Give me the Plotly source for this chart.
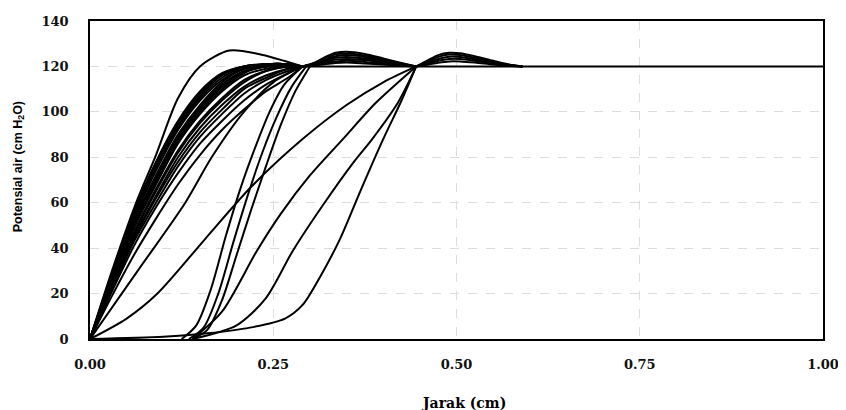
import plotly.graph_objects as go

# ---------------- data ----------------
# band of curves starting at the origin, reaching ~120 near x=0.29
band_x = [0, 0.03, 0.06, 0.09, 0.12, 0.15, 0.18, 0.21, 0.24, 0.27, 0.29]
band_y = [
    [0, 29, 56, 78, 96, 109, 117, 120, 121, 121, 120],
    [0, 28.5, 55.5, 77.5, 95, 108, 116.5, 120, 121, 121, 120],
    [0, 28, 55, 77, 94, 107, 116, 120, 121, 121, 120],
    [0, 27.5, 54, 75.5, 93, 106, 115, 119.5, 121, 121, 120],
    [0, 27, 53, 74, 92, 105, 114, 119, 121, 121, 120],
    [0, 26, 52, 72, 90, 103, 113, 119, 120, 121, 120],
    [0, 26, 51, 71, 89, 102, 112, 118, 120, 121, 120],
    [0, 25.5, 50, 70, 88, 101, 111, 117.5, 120, 120.5, 120],
    [0, 25, 49, 69, 87, 100, 110, 117, 120, 120, 120],
    [0, 25, 49, 68, 86, 99, 109, 116, 119, 120, 120],
    [0, 24, 47, 66, 83, 96, 106, 114, 118, 120, 120],
    [0, 23, 46, 65, 82, 95, 105, 113, 118, 120, 120],
    [0, 23, 45, 63, 80, 93, 103, 111, 116, 119, 120],
    [0, 22, 44, 62, 78, 91, 101, 110, 115, 119, 120],
    [0, 22, 43, 60, 76, 89, 99, 108, 114, 118, 120],
    [0, 21, 41, 58, 73, 86, 96, 105, 112, 117, 120],
    [0, 19, 37, 53, 68, 81, 92, 101, 109, 115, 120],
]

# overshooting curve from the origin
over_x = [0, 0.03, 0.063, 0.09, 0.12, 0.15, 0.19, 0.23, 0.29]
over_y = [0, 30, 60, 81, 106, 120, 127, 125.5, 120]

# straight-ish line from the origin
lin_x = [0, 0.065, 0.13, 0.166, 0.21, 0.25, 0.29]
lin_y = [0, 30, 60, 80, 100, 113, 120]

# steep curves starting near x=0.13
steep_x = [
    [0.125, 0.145, 0.165, 0.185, 0.205, 0.225, 0.245, 0.265, 0.29],
    [0.135, 0.155, 0.175, 0.195, 0.215, 0.235, 0.255, 0.275, 0.295],
    [0.14, 0.16, 0.18, 0.20, 0.22, 0.24, 0.26, 0.28, 0.30],
]
steep_y = [
    [0, 6, 22, 45, 66, 84, 100, 112, 120],
    [0, 5, 20, 42, 63, 82, 98, 111, 120],
    [0, 4, 17, 37, 57, 76, 94, 109, 120],
]

# curves reaching 120 near x=0.445
far_x = [
    [0, 0.05, 0.092, 0.157, 0.22, 0.29, 0.35, 0.40, 0.445],
    [0.14, 0.18, 0.228, 0.26, 0.30, 0.345, 0.39, 0.445],
    [0.14, 0.20, 0.24, 0.277, 0.32, 0.36, 0.385, 0.42, 0.445],
    [0, 0.10, 0.16, 0.218, 0.266, 0.29, 0.315, 0.341, 0.37, 0.40, 0.425, 0.445],
]
far_y = [
    [0, 9, 20, 44, 67, 88, 103, 113, 120],
    [0, 12, 39, 55, 72, 88, 104, 120],
    [0, 6, 18, 39, 60, 78, 88, 104, 120],
    [0, 1, 2.5, 5, 9, 15, 28, 44, 66, 88, 105, 120],
]

# second hump (0.29 - 0.445)
hump2_x = [0.29, 0.305, 0.32, 0.335, 0.35, 0.375, 0.40, 0.425, 0.445]
hump2_y = [
    [120, 121.5, 124, 126, 126.5, 125.5, 123.5, 121.5, 120],
    [120, 121.3, 123.5, 125.3, 125.7, 124.8, 123, 121.3, 120],
    [120, 121, 123, 124.5, 125, 124.2, 122.5, 121, 120],
    [120, 121, 122.5, 123.8, 124.2, 123.5, 122, 120.8, 120],
    [120, 120.8, 122, 123, 123.3, 122.8, 121.6, 120.6, 120],
    [120, 120.6, 121.5, 122.2, 122.5, 122, 121.2, 120.4, 120],
    [120, 120.4, 121, 121.5, 121.7, 121.3, 120.8, 120.3, 120],
]

# third hump (0.445 - 0.59)
hump3_x = [0.445, 0.46, 0.475, 0.49, 0.505, 0.525, 0.55, 0.57, 0.59]
hump3_y = [
    [120, 122.5, 125, 126, 125.8, 124.5, 122.5, 121, 120],
    [120, 122, 124.2, 125.2, 125, 123.8, 122, 120.8, 120],
    [120, 121.5, 123.3, 124.3, 124.2, 123.2, 121.6, 120.6, 120],
    [120, 121, 122.5, 123.3, 123.3, 122.5, 121.2, 120.4, 120],
    [120, 120.7, 121.6, 122.2, 122.2, 121.7, 120.8, 120.3, 120],
]

# level reached by all curves to the right
flat_x = [0.28, 1.0]
flat_y = [120, 120]

x_ticks = [0, 0.25, 0.5, 0.75, 1.0]
x_tick_labels = ["0.00", "0.25", "0.50", "0.75", "1.00"]
y_ticks = [0, 20, 40, 60, 80, 100, 120, 140]
x_title = "Jarak (cm)"
y_title = "Potensial air (cm H<sub>2</sub>O)"

# ---------------- figure ----------------
fig = go.Figure()
LINE = dict(color="black", width=2.0, shape="spline", smoothing=0.8)


def add(xs, ys, line=LINE):
    fig.add_trace(go.Scatter(x=xs, y=ys, mode="lines", line=line,
                             hoverinfo="skip", showlegend=False))


add(flat_x, flat_y, dict(color="black", width=2.0))

curves = [(over_x, over_y), (lin_x, lin_y)]
curves += [(band_x, yy) for yy in band_y]
curves += list(zip(steep_x, steep_y))
curves += list(zip(far_x, far_y))
for xs, ys in curves:
    add(xs, ys)
for ys in hump2_y:
    add(hump2_x, ys)
for ys in hump3_y:
    add(hump3_x, ys)

TICKFONT = dict(family="DejaVu Serif", size=13, color="#111", weight="bold")
fig.update_layout(
    width=838, height=402,
    margin=dict(l=82, r=23, t=13, b=71),
    paper_bgcolor="white", plot_bgcolor="white",
    xaxis=dict(range=[0, 1], tickvals=x_ticks, ticktext=x_tick_labels,
               showline=True, linecolor="black", linewidth=1.6, mirror=True,
               showgrid=True, gridcolor="#dcdcdc", griddash="dash", gridwidth=1,
               zeroline=False, ticks="", tickfont=TICKFONT, ticklabelstandoff=13,
               automargin=False),
    yaxis=dict(range=[0, 140], tickvals=y_ticks,
               showline=True, linecolor="black", linewidth=1.6, mirror=True,
               showgrid=True, gridcolor="#dcdcdc", griddash="dash", gridwidth=1,
               zeroline=False, ticks="", tickfont=TICKFONT, ticklabelstandoff=17,
               automargin=False),
    annotations=[
        dict(text="<b>" + x_title + "</b>", xref="paper", yref="paper",
             x=0.51, y=0, yshift=-64, xanchor="center", yanchor="middle",
             showarrow=False,
             font=dict(family="DejaVu Serif", size=14, color="black")),
        dict(text="<b>" + y_title + "</b>", xref="paper", yref="paper",
             x=0, y=0.54, xshift=-71, xanchor="center", yanchor="middle",
             textangle=-90, showarrow=False,
             font=dict(family="Liberation Sans", size=12.5, color="black")),
    ],
)
fig.write_html("out.html")
